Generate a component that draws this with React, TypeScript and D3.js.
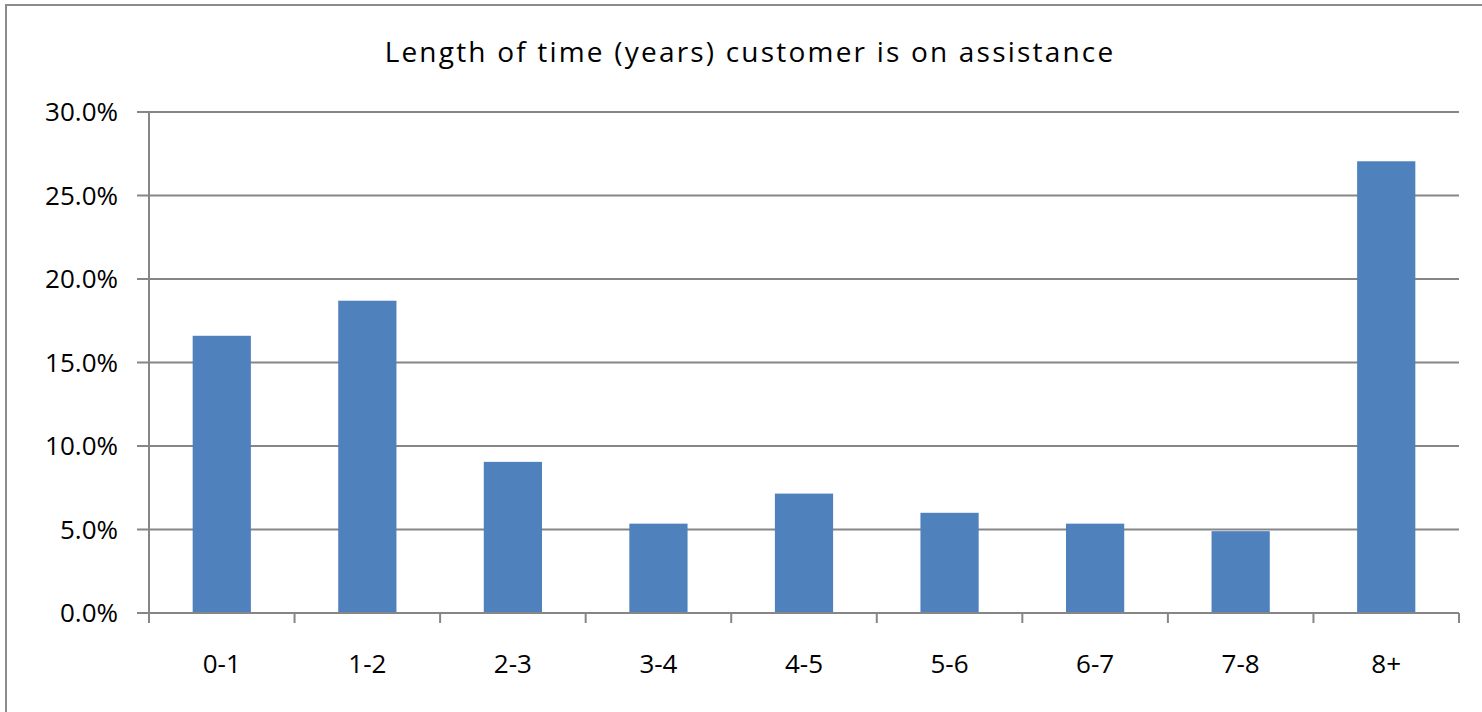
import React from "react";
import * as d3 from "d3";

const categories = ["0-1", "1-2", "2-3", "3-4", "4-5", "5-6", "6-7", "7-8", "8+"];
const shares = [16.6, 18.7, 9.05, 5.35, 7.15, 6.0, 5.35, 4.9, 27.05];
const yTicks = [0, 5, 10, 15, 20, 25, 30];
const title = "Length of time (years) customer is on assistance";

const W = 1482;
const H = 712;
const plot = { left: 149, right: 1459, top: 112, bottom: 613 };
const FONT = "'Open Sans', Lato, sans-serif";
const GRID = "#868686";
const BAR = "#4f81bd";

export default function App() {
  const x = d3
    .scaleBand<string>()
    .domain(categories)
    .range([plot.left, plot.right])
    .paddingInner(0.6)
    .paddingOuter(0.3);
  const band = d3.scaleBand<string>().domain(categories).range([plot.left, plot.right]);
  const y = d3.scaleLinear().domain([0, 30]).range([plot.bottom, plot.top]);

  const tickEdges = categories.map((c) => band(c) as number).concat([plot.right]);

  return (
    <svg
      width={W}
      height={H}
      style={{ position: "absolute", left: 0, top: 0, background: "#fff" }}
    >
      <rect x={6} y={5} width={W} height={H} fill="#fff" stroke="#8c8c8c" strokeWidth={2} />
      <text
        x={750}
        y={62}
        textAnchor="middle"
        fontFamily={FONT}
        fontSize={28}
        letterSpacing={2.2}
        fill="#000"
      >
        {title}
      </text>

      {yTicks.map((t) => (
        <g key={t}>
          <line
            x1={plot.left - 12}
            x2={plot.right}
            y1={y(t)}
            y2={y(t)}
            stroke={GRID}
            strokeWidth={2}
          />
          <text
            x={118}
            y={y(t)}
            dy="0.36em"
            textAnchor="end"
            fontFamily={FONT}
            fontSize={26}
            fill="#000"
          >
            {t.toFixed(1)}%
          </text>
        </g>
      ))}

      <line x1={plot.left} x2={plot.left} y1={plot.top} y2={plot.bottom + 10} stroke={GRID} strokeWidth={2} />
      {tickEdges.map((tx, i) => (
        <line key={i} x1={tx} x2={tx} y1={plot.bottom} y2={plot.bottom + 10} stroke={GRID} strokeWidth={2} />
      ))}

      {categories.map((c, i) => (
        <rect
          key={c}
          x={x(c)}
          y={y(shares[i])}
          width={x.bandwidth()}
          height={y(0) - y(shares[i]) - 1}
          fill={BAR}
        />
      ))}

      {categories.map((c) => (
        <text
          key={c}
          x={(band(c) as number) + band.bandwidth() / 2}
          y={673}
          textAnchor="middle"
          fontFamily={FONT}
          fontSize={26}
          fill="#000"
        >
          {c}
        </text>
      ))}
    </svg>
  );
}
